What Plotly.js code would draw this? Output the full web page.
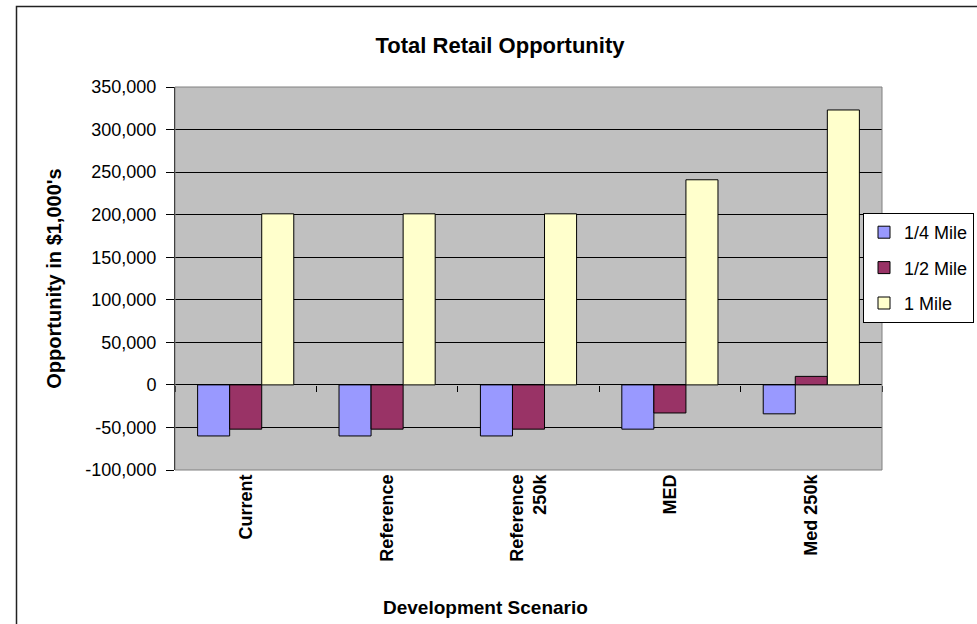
<!DOCTYPE html>
<html>
<head>
<meta charset="utf-8">
<script src="https://cdn.plot.ly/plotly-3.0.1.min.js"></script>
<style>
  html, body { margin: 0; padding: 0; background: #fff; }
  #chart { width: 977px; height: 624px; }
</style>
</head>
<body>
<div id="chart"></div>
<script>
const categories = ["Current", "Reference", "Reference<br>250k", "MED", "Med 250k"];
const quarterMile = [-60000, -60000, -60000, -52000, -34000];
const halfMile = [-52000, -52000, -52000, -33000, 10000];
const oneMile = [201000, 201000, 201000, 241000, 323000];
const seriesNames = ["1/4 Mile", "1/2 Mile", "1 Mile"];
const tickValues = [-100000, -50000, 0, 50000, 100000, 150000, 200000, 250000, 300000, 350000];
const tickLabels = ["-100,000", "-50,000", "0", "50,000", "100,000", "150,000", "200,000", "250,000", "300,000", "350,000"];

const colors = ["#9999FF", "#993366", "#FFFFCC"];
const font = "Liberation Sans, Arial, sans-serif";

const L = 175, R = 882, T = 87, B = 470, W = 977, H = 624;
const pw = R - L, ph = B - T;
const px = v => (v - L) / pw;
const py = v => (B - v) / ph;

const series = [quarterMile, halfMile, oneMile];
const traces = series.map((vals, i) => ({
  type: "bar",
  x: categories,
  y: vals,
  name: seriesNames[i],
  legendgroup: "g" + i,
  marker: { color: colors[i], line: { color: "#000", width: 1 } },
  hoverinfo: "x+y+name"
}));
// invisible trace carrying the category-axis ticks along the zero line
traces.push({
  type: "bar", x: categories, y: categories.map(() => 0), xaxis: "x2",
  showlegend: false, hoverinfo: "skip", marker: { color: "rgba(0,0,0,0)" }
});

const layout = {
  width: W, height: H,
  margin: { l: L, r: W - R, t: T, b: H - B, autoexpand: false },
  paper_bgcolor: "#fff",
  plot_bgcolor: "#C0C0C0",
  font: { family: font, color: "#000", size: 14 },
  title: { text: "<b>Total Retail Opportunity</b>", font: { family: font, size: 22 }, x: 500 / W, xref: "container", xanchor: "center", y: 1 - 45 / H, yref: "container", yanchor: "middle" },
  barmode: "group",
  bargap: 0.32,
  bargroupgap: 0,
  showlegend: true,
  legend: {
    x: px(863), xanchor: "left", y: py(213), yanchor: "top",
    bgcolor: "#fff", bordercolor: "#000", borderwidth: 1,
    font: { family: font, size: 18 },
    traceorder: "grouped", tracegroupgap: 9,
    itemwidth: 30
  },
  xaxis: {
    type: "category",
    showgrid: false, zeroline: false,
    showline: false,
    ticks: "", tickangle: -90,
    tickfont: { family: font, size: 18, color: "#000", weight: "bold" },
    automargin: false
  },
  xaxis2: {
    type: "category", overlaying: "x", anchor: "free", position: 100000 / 450000,
    showgrid: false, zeroline: false, showline: false, showticklabels: false,
    ticks: "outside", tickson: "boundaries", ticklen: 6, tickcolor: "#000", tickwidth: 1,
    matches: "x"
  },
  yaxis: {
    range: [-100000, 350000],
    tickvals: tickValues, ticktext: tickLabels,
    showgrid: true, gridcolor: "#000", gridwidth: 1,
    zeroline: true, zerolinecolor: "#000", zerolinewidth: 1,
    showline: true, linecolor: "#000", linewidth: 1,
    ticks: "outside", ticklen: 8, tickcolor: "#000",
    ticklabelstandoff: 6,
    tickfont: { family: font, size: 18, color: "#000" },
    title: { text: "<b>Opportunity in $1,000's</b>", font: { family: font, size: 20 }, standoff: 18 },
    automargin: false
  },
  annotations: [
    { text: "<b>Development Scenario</b>", xref: "paper", yref: "paper", x: px(485), y: py(607), xanchor: "center", yanchor: "middle", showarrow: false, font: { family: font, size: 19, color: "#000" } }
  ],
  shapes: [
    { type: "rect", xref: "paper", yref: "paper", x0: 0, x1: 1, y0: 0, y1: 1, line: { color: "#808080", width: 1 }, layer: "above" },
    { type: "rect", xref: "paper", yref: "paper", x0: px(16.5), x1: px(990), y0: py(640), y1: py(6.5), line: { color: "#222", width: 1.5 } }
  ]
};

Plotly.newPlot("chart", traces, layout, { displayModeBar: false, staticPlot: true });
</script>
</body>
</html>
